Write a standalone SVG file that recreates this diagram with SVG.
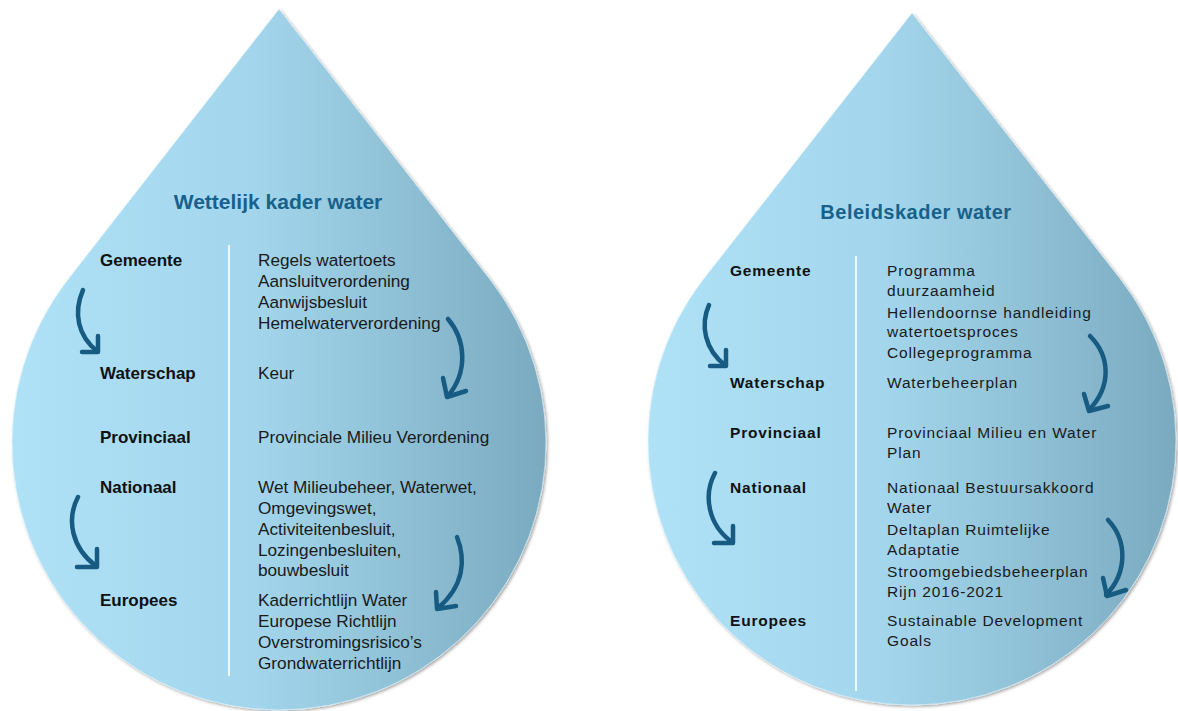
<svg xmlns="http://www.w3.org/2000/svg" width="1178" height="711" viewBox="0 0 1178 711">
<defs>
<linearGradient id="dropGrad" x1="0" y1="0" x2="1" y2="0">
<stop offset="0" stop-color="#afe2f7"/>
<stop offset="0.45" stop-color="#a3d6ec"/>
<stop offset="1" stop-color="#7aaac0"/>
</linearGradient>
<filter id="shadow" x="-5%" y="-5%" width="110%" height="110%">
<feDropShadow dx="1.5" dy="1.5" stdDeviation="1.5" flood-color="#000" flood-opacity="0.35"/>
</filter>
</defs>
<style>
.drop{fill:url(#dropGrad);stroke:#e6f7fd;stroke-opacity:0.6;stroke-width:1;filter:url(#shadow)}
.title{font-family:"Liberation Sans",Arial,sans-serif;font-weight:bold;fill:#17618a;text-anchor:middle}
.lbl{font-family:"Liberation Sans",Arial,sans-serif;font-weight:bold;font-size:17px;fill:#111}
.txt{font-family:"Liberation Sans",Arial,sans-serif;font-size:17.2px;fill:#1a1a1a}
.lbl2{font-family:"Liberation Sans",Arial,sans-serif;font-weight:bold;font-size:15.5px;letter-spacing:0.8px;fill:#111}
.txt2{font-family:"Liberation Sans",Arial,sans-serif;font-size:15.5px;letter-spacing:0.85px;fill:#1a1a1a}
.div{stroke:#ffffff;stroke-width:1.6;fill:none}
.arrow{fill:none;stroke:#175a82;stroke-width:4.5;stroke-linecap:round;stroke-linejoin:round}
</style>

<g id="drop-wettelijk">
<path class="drop" d="M279,9 L489.5,278.7 A267,267 0 1 1 68.5,278.7 Z"/>
<text class="title" x="278" y="209" font-size="21">Wettelijk kader water</text>
<line class="div" x1="229" y1="245" x2="229" y2="676"/>
<g id="w-gemeente">
<text class="lbl" x="100" y="266">Gemeente</text>
<text class="txt" x="258" y="266">Regels watertoets</text>
<text class="txt" x="258" y="287">Aansluitverordening</text>
<text class="txt" x="258" y="308">Aanwijsbesluit</text>
<text class="txt" x="258" y="329">Hemelwaterverordening</text>
</g>
<g id="w-waterschap">
<text class="lbl" x="100" y="379">Waterschap</text>
<text class="txt" x="258" y="379">Keur</text>
</g>
<g id="w-provinciaal">
<text class="lbl" x="100" y="443">Provinciaal</text>
<text class="txt" x="258" y="443">Provinciale Milieu Verordening</text>
</g>
<g id="w-nationaal">
<text class="lbl" x="100" y="493">Nationaal</text>
<text class="txt" x="258" y="493">Wet Milieubeheer, Waterwet,</text>
<text class="txt" x="258" y="514">Omgevingswet,</text>
<text class="txt" x="258" y="535">Activiteitenbesluit,</text>
<text class="txt" x="258" y="556">Lozingenbesluiten,</text>
<text class="txt" x="258" y="576">bouwbesluit</text>
</g>
<g id="w-europees">
<text class="lbl" x="100" y="606">Europees</text>
<text class="txt" x="258" y="606">Kaderrichtlijn Water</text>
<text class="txt" x="258" y="627">Europese Richtlijn</text>
<text class="txt" x="258" y="648">Overstromingsrisico’s</text>
<text class="txt" x="258" y="669">Grondwaterrichtlijn</text>
</g>
</g>

<g id="drop-beleid">
<path class="drop" d="M912,13 L1119.8,278.2 A264,264 0 1 1 704.2,278.2 Z"/>
<text class="title" x="916" y="219" font-size="20" letter-spacing="0.5">Beleidskader water</text>
<line class="div" x1="856" y1="256" x2="856" y2="691"/>
<g id="b-gemeente">
<text class="lbl2" x="730" y="276">Gemeente</text>
<text class="txt2" x="887" y="276">Programma</text>
<text class="txt2" x="887" y="296">duurzaamheid</text>
<text class="txt2" x="887" y="318">Hellendoornse handleiding</text>
<text class="txt2" x="887" y="337">watertoetsproces</text>
<text class="txt2" x="887" y="358">Collegeprogramma</text>
</g>
<g id="b-waterschap">
<text class="lbl2" x="730" y="388">Waterschap</text>
<text class="txt2" x="887" y="388">Waterbeheerplan</text>
</g>
<g id="b-provinciaal">
<text class="lbl2" x="730" y="438">Provinciaal</text>
<text class="txt2" x="887" y="438">Provinciaal Milieu en Water</text>
<text class="txt2" x="887" y="458">Plan</text>
</g>
<g id="b-nationaal">
<text class="lbl2" x="730" y="493">Nationaal</text>
<text class="txt2" x="887" y="493">Nationaal Bestuursakkoord</text>
<text class="txt2" x="887" y="513">Water</text>
<text class="txt2" x="887" y="535">Deltaplan Ruimtelijke</text>
<text class="txt2" x="887" y="555">Adaptatie</text>
<text class="txt2" x="887" y="577">Stroomgebiedsbeheerplan</text>
<text class="txt2" x="887" y="597">Rijn 2016-2021</text>
</g>
<g id="b-europees">
<text class="lbl2" x="730" y="626">Europees</text>
<text class="txt2" x="887" y="626">Sustainable Development</text>
<text class="txt2" x="887" y="646">Goals</text>
</g>
</g>

<g id="connectors">
<path class="arrow" d="M83,290 C73,313 78,336 97,351"/>
<path class="arrow" d="M82,352 L98,352 L98,336"/>
<path class="arrow" d="M78,497 C66,520 72,548 96,566"/>
<path class="arrow" d="M77,567 L97,567 L97,549"/>
<path class="arrow" d="M448,319 C466,340 468,372 448,396"/>
<path class="arrow" d="M443,378 L447,397 L466,391"/>
<path class="arrow" d="M457,537 C466,560 464,586 438,608"/>
<path class="arrow" d="M436,592 L437,609 L456,606"/>
<path class="arrow" d="M709,305 C700,325 705,350 725,365"/>
<path class="arrow" d="M710,366 L726,366 L726,350"/>
<path class="arrow" d="M1090,336 C1110,356 1112,386 1089,410"/>
<path class="arrow" d="M1084,394 L1089,411 L1108,406"/>
<path class="arrow" d="M715,473 C703,495 708,525 732,542"/>
<path class="arrow" d="M714,543 L733,543 L733,526"/>
<path class="arrow" d="M1108,520 C1127,540 1128,572 1106,595"/>
<path class="arrow" d="M1103,578 L1107,596 L1126,590"/>
</g>
</svg>
